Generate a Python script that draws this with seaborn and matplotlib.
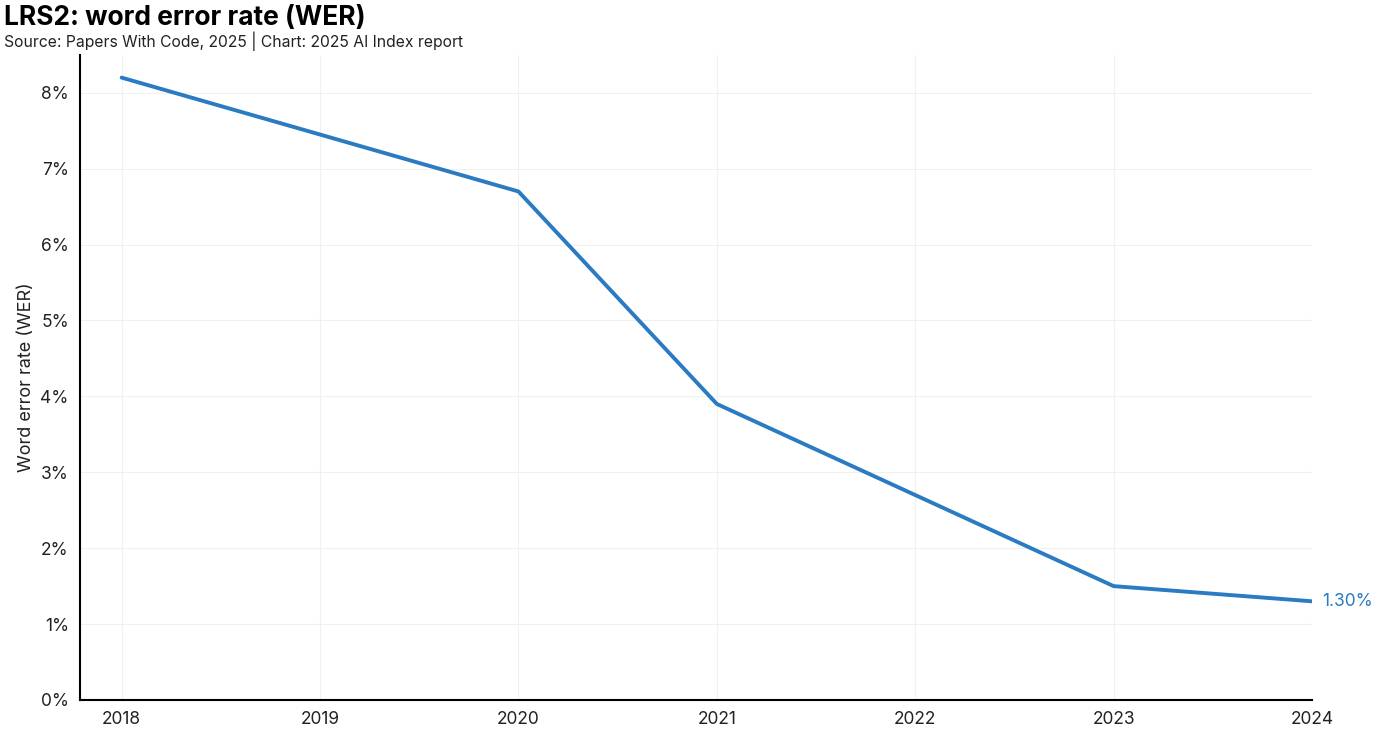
import numpy as np
import pandas as pd
import seaborn as sns
import matplotlib.pyplot as plt
from matplotlib.ticker import FuncFormatter

# data
years = [2018, 2020, 2021, 2023, 2024]
wer = [8.2, 6.7, 3.9, 1.5, 1.3]

df = pd.DataFrame({"year": years, "wer": wer})

sns.set_theme(style="white")
plt.rcParams["font.family"] = ["Inter", "DejaVu Sans"]

line_color = "#2a7bc1"

fig = plt.figure(figsize=(13.93, 7.39), dpi=100)
ax = fig.add_axes([0.0574, 0.0528, 0.8845, 0.873])

sns.lineplot(data=df, x="year", y="wer", ax=ax, color=line_color, linewidth=2.8)

ax.set_xlim(2017.79, 2024)
ax.set_ylim(0, 8.5)
ax.set_xticks(range(2018, 2025))
ax.set_yticks(range(0, 9))
ax.yaxis.set_major_formatter(FuncFormatter(lambda v, p: f"{int(v)}%"))
ax.grid(True, color="#f0f0f0", linewidth=0.8)
ax.tick_params(axis="both", labelsize=12.5, colors="#222222", length=0, pad=8)

for s in ["top", "right"]:
    ax.spines[s].set_visible(False)
for s in ["left", "bottom"]:
    ax.spines[s].set_color("black")
    ax.spines[s].set_linewidth(1.5)

ax.set_xlabel("")
ax.set_ylabel("Word error rate (WER)", fontsize=13, color="#222222")

ax.text(years[-1] + 0.05, wer[-1], f"{wer[-1]:.2f}%", color=line_color,
        fontsize=12.5, va="center", ha="left", clip_on=False)

fig.text(0.003, 0.975, "LRS2: word error rate (WER)", fontsize=19, fontweight="bold",
         color="black", va="center", ha="left")
fig.text(0.003, 0.944, "Source: Papers With Code, 2025 | Chart: 2025 AI Index report",
         fontsize=11.3, color="#222222", va="center", ha="left")

plt.savefig("out.png", dpi=100)
